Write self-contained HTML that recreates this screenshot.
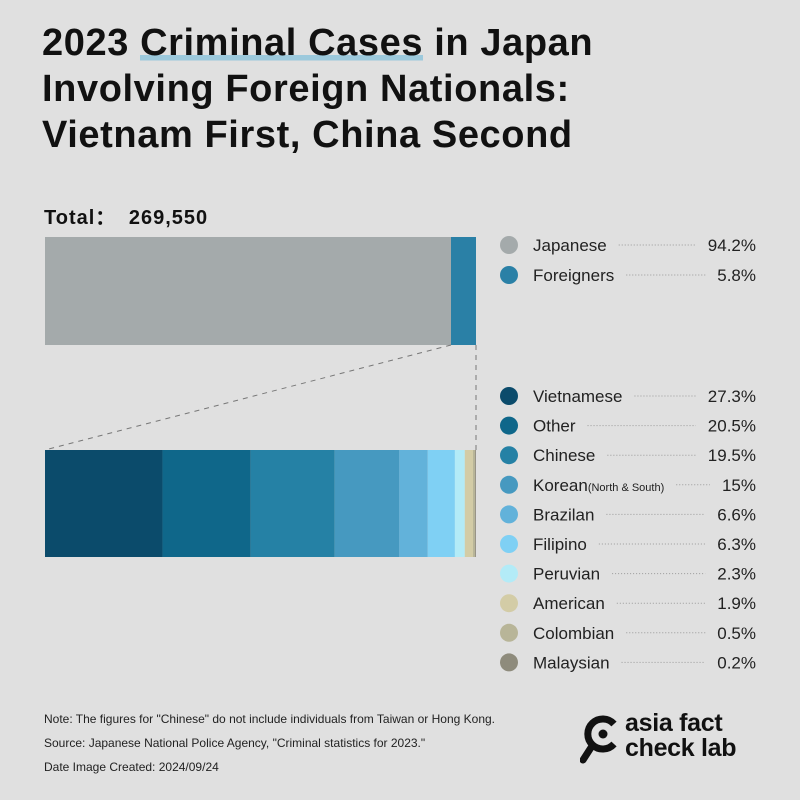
<!DOCTYPE html>
<html><head><meta charset="utf-8">
<style>
html,body{margin:0;padding:0;}
body{width:800px;height:800px;background:#e0e0e0;font-family:"Liberation Sans",sans-serif;position:relative;overflow:hidden;color:#111;}
#title{position:absolute;left:42px;top:20px;font-size:38px;font-weight:bold;line-height:46px;letter-spacing:0.6px;margin:0;}
#title .hl{background:linear-gradient(transparent 78%,#9cc9dc 78%,#9cc9dc 92%,transparent 92%);}
#total{position:absolute;left:44px;top:201px;font-size:20px;font-weight:bold;letter-spacing:1px;word-spacing:6px;}
.notes{position:absolute;left:44px;font-size:12px;color:#222;}
#logo{position:absolute;left:580px;top:712px;}
#logo-text{position:absolute;left:625px;top:711px;font-size:25px;font-weight:bold;line-height:25px;color:#111;letter-spacing:-0.3px;}
</style></head><body>
<h1 id="title">2023 <span class="hl">Criminal Cases</span> in Japan<br>Involving Foreign Nationals:<br>Vietnam First, China Second</h1>
<div id="total">Total： 269,550</div>
<svg id="chart" width="800" height="800" style="position:absolute;left:0;top:0"></svg>
<div class="notes" style="top:712px">Note: The figures for "Chinese" do not include individuals from Taiwan or Hong Kong.</div>
<div class="notes" style="top:736px">Source: Japanese National Police Agency, "Criminal statistics for 2023."</div>
<div class="notes" style="top:760px">Date Image Created: 2024/09/24</div>
<svg id="logo" width="44" height="56">
<path d="M34 12 A15 15 0 1 0 34 32" fill="none" stroke="#111" stroke-width="7"/>
<circle cx="23" cy="22" r="4.5" fill="#111"/>
<line x1="12" y1="34" x2="3" y2="48" stroke="#111" stroke-width="7" stroke-linecap="round"/>
</svg>
<div id="logo-text">asia fact<br>check lab</div>
<script>
const topCats=["Japanese","Foreigners"];
const topVals=[94.2,5.8];
const topLabels=["94.2%","5.8%"];
const cats=["Vietnamese","Other","Chinese","Korean","Brazilan","Filipino","Peruvian","American","Colombian","Malaysian"];
const vals=[27.3,20.5,19.5,15,6.6,6.3,2.3,1.9,0.5,0.2];
const valLabels=["27.3%","20.5%","19.5%","15%","6.6%","6.3%","2.3%","1.9%","0.5%","0.2%"];
const topColors=["#a4aaab","#2a80a6"];
const colors=["#0b4b6b","#0f678a","#2581a5","#4699c0","#62b2da","#7fd0f4","#b3ebf7","#d3cca6","#b8b598","#8e8b7c"];
const NS="http://www.w3.org/2000/svg";
const svg=document.getElementById('chart');
const X0=45,W=431;
function xs(v,tot){return X0+v/tot*W;}
function mk(t,a){const e=document.createElementNS(NS,t);for(const k in a)e.setAttribute(k,a[k]);svg.appendChild(e);return e;}
const tTot=topVals.reduce((a,b)=>a+b,0);
let acc=0;
topVals.forEach((v,i)=>{
  const r=mk('rect',{x:xs(acc,tTot),y:237,width:xs(acc+v,tTot)-xs(acc,tTot),height:108,fill:topColors[i]});
  
  
  acc+=v;
});
const splitX=xs(topVals[0],tTot);
const d1=mk('line',{x1:splitX,y1:345,x2:X0,y2:450,stroke:'#777','stroke-dasharray':'5,5','stroke-width':1});


const d2=mk('line',{x1:X0+W,y1:345,x2:X0+W,y2:450,stroke:'#777','stroke-dasharray':'5,5','stroke-width':1});


const bTot=vals.reduce((a,b)=>a+b,0);
acc=0;
vals.forEach((v,i)=>{
  const r=mk('rect',{x:xs(acc,bTot),y:450,width:xs(acc+v,bTot)-xs(acc,bTot),height:107,fill:colors[i]});
  
  
  acc+=v;
});
function legend(names,labels,cols,y0,step){
  names.forEach((n,i)=>{
    const y=y0+i*step;
    const c=mk('circle',{cx:509,cy:y,r:9,fill:cols[i]});
    
    
    const t=mk('text',{x:533,y:y+6,'font-size':17,fill:'#222','font-family':'Liberation Sans, sans-serif'});
    t.textContent=n;
    if(n==="Korean"){const s=document.createElementNS(NS,'tspan');s.setAttribute('font-size','11');s.textContent='(North & South)';t.appendChild(s);}
    
    
    const v=mk('text',{x:756,y:y+6,'font-size':17,fill:'#222','text-anchor':'end','font-family':'Liberation Sans, sans-serif'});
    v.textContent=labels[i];
    
    
    const lw=t.getComputedTextLength(), vw=v.getComputedTextLength();
    const l=mk('line',{x1:533+lw+12,y1:y,x2:756-vw-12,y2:y,stroke:'#999','stroke-dasharray':'1,2','stroke-width':1});
    
    
  });
}
legend(topCats,topLabels,topColors,245,30);
legend(cats,valLabels,colors,396,29.6);
</script>
</body></html>
